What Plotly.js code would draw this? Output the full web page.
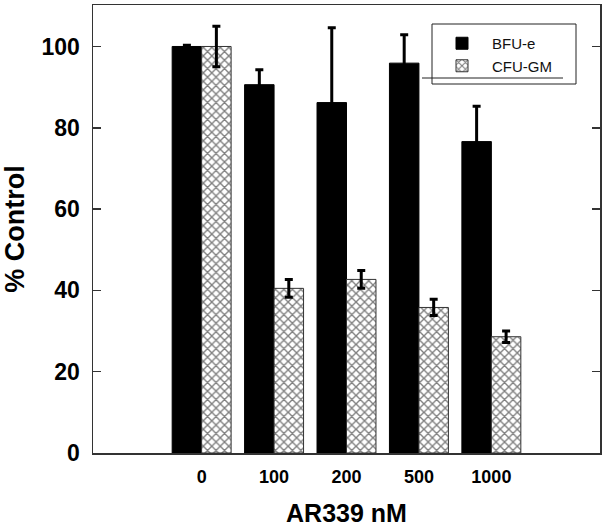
<!DOCTYPE html>
<html>
<head>
<meta charset="utf-8">
<script src="https://cdn.plot.ly/plotly-3.0.1.min.js"></script>
<style>html,body{margin:0;padding:0;background:#fff}#chart{width:608px;height:532px}</style>
</head>
<body>
<div id="chart"></div>
<script>
var categories = ["0", "100", "200", "500", "1000"];
var bfuValues = [100, 90.6, 86.2, 95.9, 76.6];
var bfuErrors = [0.3, 3.7, 18.4, 7.0, 8.7];
var cfuValues = [100, 40.5, 42.7, 35.8, 28.6];
var cfuErrors = [5.0, 2.2, 2.2, 2.0, 1.4];
var yTicks = [0, 20, 40, 60, 80, 100];

var FONT = "Arial, 'Liberation Sans', sans-serif";

var traces = [
  {
    type: "bar", name: "BFU-e", x: categories, y: bfuValues,
    marker: {color: "#000000", line: {color: "#000000", width: 1}},
    error_y: {type: "data", array: bfuErrors, visible: true, color: "#000000", thickness: 3, width: 4}
  },
  {
    type: "bar", name: "CFU-GM", x: categories, y: cfuValues,
    marker: {color: "#ffffff", line: {color: "#333333", width: 1},
      pattern: {shape: "x", size: 6, solidity: 0.4, fgcolor: "#000000", bgcolor: "#ffffff", fillmode: "overlay"}},
    error_y: {type: "data", array: cfuErrors, visible: true, color: "#000000", thickness: 3, width: 4}
  }
];

var layout = {
  width: 608, height: 532,
  margin: {l: 93, r: 8, t: 5, b: 79, pad: 0},
  paper_bgcolor: "#ffffff", plot_bgcolor: "#ffffff",
  font: {family: FONT, color: "#000000"},
  barmode: "group", bargap: 0.186, bargroupgap: 0,
  showlegend: true,
  legend: {
    x: (432 - 93) / 507, y: (453 - 27) / 448, xanchor: "left", yanchor: "top",
    bgcolor: "rgba(0,0,0,0)", borderwidth: 0,
    font: {family: FONT, size: 15, color: "#111111"},
    itemwidth: 50, tracegroupgap: 0
  },
  xaxis: {
    type: "category", range: [-1.5, 5.5], autorange: false,
    showline: true, mirror: true, linecolor: "#333333", linewidth: 1.5,
    ticks: "", showgrid: false, zeroline: false,
    tickfont: {family: FONT, size: 18, color: "#000000", weight: "bold"},
    ticklabelstandoff: 7,
    title: {text: "<b>AR339 nM</b>", font: {family: FONT, size: 25, color: "#000000"}, standoff: 18}
  },
  yaxis: {
    range: [0, 110.2], autorange: false,
    tickvals: yTicks, ticktext: yTicks.map(String),
    showline: true, mirror: "ticks", linecolor: "#333333", linewidth: 1.5,
    ticks: "inside", ticklen: 8, tickwidth: 1.5, tickcolor: "#333333",
    showgrid: false, zeroline: false,
    tickfont: {family: FONT, size: 23, color: "#000000", weight: "bold"},
    ticklabelstandoff: 7,
    title: {text: "<b>% Control</b>", font: {family: FONT, size: 27, color: "#000000"}, standoff: 12}
  },
  shapes: [
    {type: "rect", xref: "paper", yref: "paper",
     x0: (432 - 93) / 507, x1: (576 - 93) / 507, y0: (453 - 84) / 448, y1: (453 - 24) / 448,
     line: {color: "#222222", width: 1}, fillcolor: "rgba(0,0,0,0)"},
    {type: "line", xref: "paper", yref: "paper",
     x0: (422 - 93) / 507, x1: (563 - 93) / 507, y0: (453 - 78) / 448, y1: (453 - 78) / 448,
     line: {color: "#222222", width: 1}}
  ]
};

Plotly.newPlot("chart", traces, layout, {displayModeBar: false, staticPlot: true});
</script>
</body>
</html>
